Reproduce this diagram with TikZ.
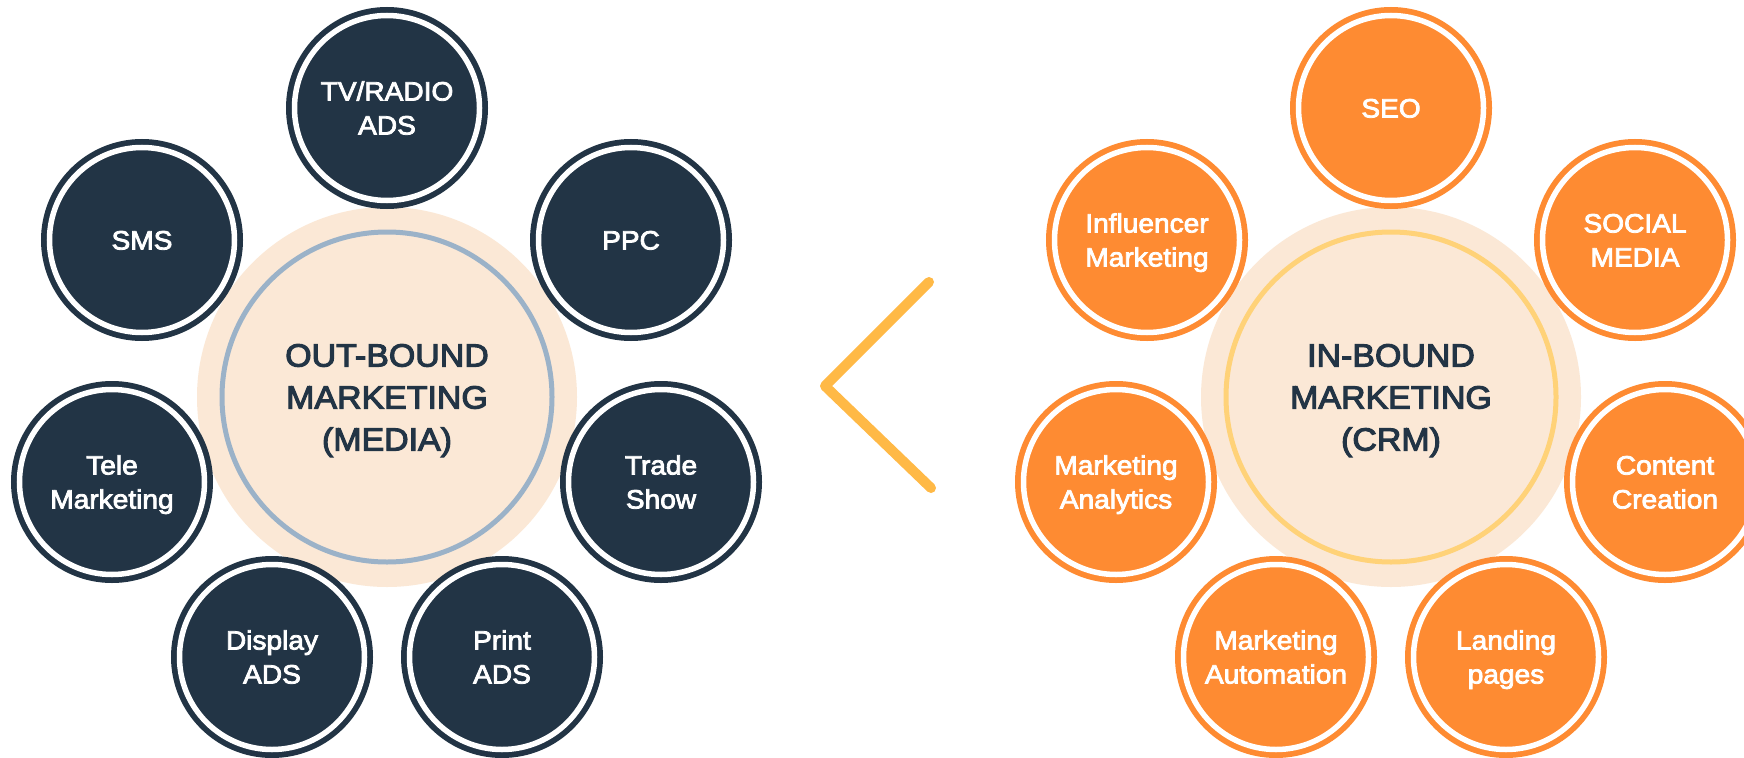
\documentclass[tikz,border=0pt]{standalone}
\usepackage{fontspec}
\newfontfamily\lbl[FakeStretch=1.06]{Liberation Sans}
\newlength\capH
\newlength\lsk
\newcommand\thick{\special{pdf:code 2 Tr 0.8 w}}
\newcommand\thicker{\special{pdf:code 2 Tr 1.1 w}}
\newcommand\satf{\lbl\fontsize{26.5pt}{34pt}\selectfont\setlength\capH{19pt}\setlength\lsk{34pt}\thick}
\newcommand\ctrf{\lbl\fontsize{32pt}{42pt}\selectfont\setlength\capH{23pt}\setlength\lsk{42pt}\thicker}
\newcommand\lone[1]{\raisebox{0pt}[\capH][0pt]{#1}}
\newcommand\ltwo[2]{\raisebox{0pt}[\dimexpr\capH+\lsk\relax][0pt]{\vbox{\hbox to 0pt{\hss#1\hss}\hbox to 0pt{\hss#2\hss}}}}
\newcommand\lthree[3]{\raisebox{0pt}[\dimexpr\capH+2\lsk\relax][0pt]{\vbox{\hbox to 0pt{\hss#1\hss}\hbox to 0pt{\hss#2\hss}\hbox to 0pt{\hss#3\hss}}}}
\definecolor{navy}{HTML}{223445}
\definecolor{orng}{HTML}{FE8B32}
\definecolor{peach}{HTML}{FBE8D6}
\definecolor{bluering}{HTML}{9BB2C8}
\definecolor{yelring}{HTML}{FFD278}
\definecolor{chev}{HTML}{FFB946}
\tikzset{
  sat/.style={circle, minimum size=185pt, inner sep=0pt, fill=#1, draw=white, line width=5.5pt,
    preaction={draw=#1, line width=17pt}, text=white, font=\satf},
  pale/.style={circle, minimum size=380pt, inner sep=0pt, fill=peach, draw=none},
  hub/.style={circle, minimum size=330pt, inner sep=0pt, draw=#1, line width=5pt, text=navy, font=\ctrf},
}
\begin{document}
\begin{tikzpicture}[x=1pt,y=-1pt]
\useasboundingbox (0,0) rectangle (1744,757);
\clip (0,0) rectangle (1744,757);
\fill[white] (0,0) rectangle (1744,757);
% left hub
\node[pale] (outbg) at (387,397) {};
\node[hub=bluering] (out) at (387,397) {\lthree{OUT-BOUND}{MARKETING}{(MEDIA)}};
% right hub
\node[pale] (inbg) at (1391,397) {};
\node[hub=yelring] (in) at (1391,397) {\lthree{IN-BOUND}{MARKETING}{(CRM)}};
% left satellites
\node[sat=navy] (tv) at (387,108) {\ltwo{TV/RADIO}{ADS}};
\node[sat=navy] (sms) at (142,240) {\lone{SMS}};
\node[sat=navy] (ppc) at (631,240) {\lone{PPC}};
\node[sat=navy] (tele) at (112,482) {\ltwo{Tele}{Marketing}};
\node[sat=navy] (trade) at (661,482) {\ltwo{Trade}{Show}};
\node[sat=navy] (display) at (272,657) {\ltwo{Display}{ADS}};
\node[sat=navy] (print) at (502,657) {\ltwo{Print}{ADS}};
% right satellites
\node[sat=orng] (seo) at (1391,108) {\lone{SEO}};
\node[sat=orng] (infl) at (1147,240) {\ltwo{Influencer}{Marketing}};
\node[sat=orng] (social) at (1635,240) {\ltwo{SOCIAL}{MEDIA}};
\node[sat=orng] (analytics) at (1116,482) {\ltwo{Marketing}{Analytics}};
\node[sat=orng] (content) at (1665,482) {\ltwo{Content}{Creation}};
\node[sat=orng] (autom) at (1276,657) {\ltwo{Marketing}{Automation}};
\node[sat=orng] (landing) at (1506,657) {\ltwo{Landing}{pages}};
% chevron
\coordinate (ctop) at (929,282);
\coordinate (capex) at (825,386);
\coordinate (cbot) at (931,488);
\draw[chev, line width=10pt, line cap=round, line join=round] (ctop) -- (capex) -- (cbot);
\end{tikzpicture}
\end{document}
